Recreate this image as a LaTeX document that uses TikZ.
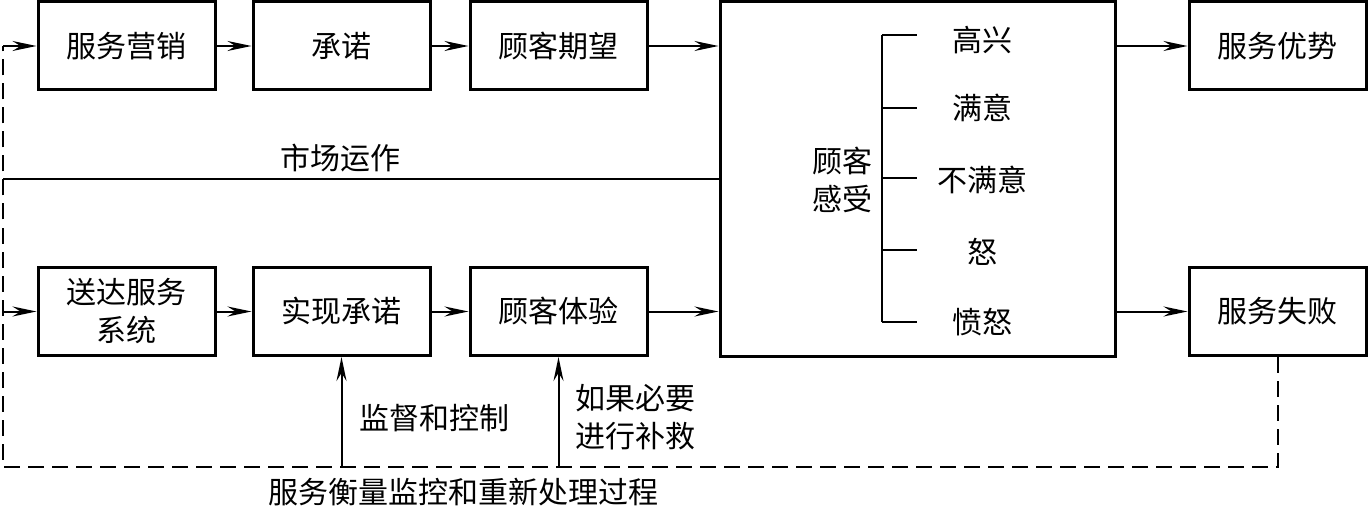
\documentclass[tikz,border=0pt]{standalone}
\usepackage{fontspec}
\setmainfont{Noto Sans CJK SC}
\usetikzlibrary{arrows.meta}
\begin{document}
\begin{tikzpicture}[x=0.5pt,y=-0.5pt,
  every node/.style={font=\fontsize{15pt}{19pt}\selectfont,inner sep=0pt},
  box/.style={draw,line width=1.5pt,minimum width=88.5pt,minimum height=44pt,align=center},
  bigbox/.style={draw,line width=1.5pt,minimum width=197.5pt,minimum height=177pt},
  lbl/.style={align=center},
  conn/.style={line width=1pt,-{Stealth[length=12pt,width=5pt,inset=4pt]}},
  plain/.style={line width=1pt},
  fb/.style={line width=1pt,dash pattern=on 8pt off 4pt}]
\useasboundingbox (0,0) rectangle (1368,507);
% top row
\node[box] (b1) at (126.5,46) {服务营销};
\node[box] (b2) at (341.5,46) {承诺};
\node[box] (b3) at (558.5,46) {顾客期望};
\node[box] (b4) at (1277.5,46) {服务优势};
% bottom row
\node[box] (c1) at (126.5,311.5) {送达服务\\系统};
\node[box] (c2) at (341.5,311.5) {实现承诺};
\node[box] (c3) at (558.5,311.5) {顾客体验};
\node[box] (c4) at (1277.5,311.5) {服务失败};
% big box
\node[bigbox] (big) at (917.5,179) {};
\node[lbl] (feel) at (842,180) {顾客\\感受};
\coordinate (t0) at (882,35);
\coordinate (t4) at (882,322);
\draw[plain] (t0) -- (t4);
\node (e0) at (982,40) {高兴};
\node (e1) at (982,108) {满意};
\node (e2) at (982,180) {不满意};
\node (e3) at (982,252) {怒};
\node (e4) at (982,322) {愤怒};
\foreach \y/\w in {35/1pt,108/1pt,178/1pt,250/0.6pt,322/1pt}
  \draw[line width=\w] (882,\y) -- (917,\y);
% arrows top/bottom rows
\draw[conn] (b1) -- (b2);
\draw[conn] (b2) -- (b3);
\draw[conn] (b3.east) -- (big.west |- b3.east);
\draw[conn] (big.east |- b4.west) -- (b4.west);
\draw[conn] (c1) -- (c2);
\draw[conn] (c2) -- (c3);
\draw[conn] (c3.east) -- (big.west |- c3.east);
\draw[conn] (big.east |- c4.west) -- (c4.west);
% left feedback
\coordinate (L1) at (3,46);
\coordinate (L2) at (3,311.5);
\coordinate (Lb) at (3,467);
\coordinate (Rb) at (1277.5,467);
\draw[fb] (c4.south) -- (Rb) -- (Lb) -- (L1);
\draw[conn] (L1) -- (b1.west);
\draw[conn] (L2) -- (c1.west);
% market line
\coordinate (M) at (3,179);
\draw[plain] (M) -- (big.west);
\node (mk) at (340,158) {市场运作};
% monitoring arrows
\coordinate (V1) at (341.5,467);
\coordinate (V2) at (558.5,467);
\draw[conn] (V1) -- (c2.south);
\draw[conn] (V2) -- (c3.south);
\node (m1) at (434,418) {监督和控制};
\node[lbl] (m2) at (635,417) {如果必要\\进行补救};
\node (bot) at (463,492) {服务衡量监控和重新处理过程};
\end{tikzpicture}
\end{document}
